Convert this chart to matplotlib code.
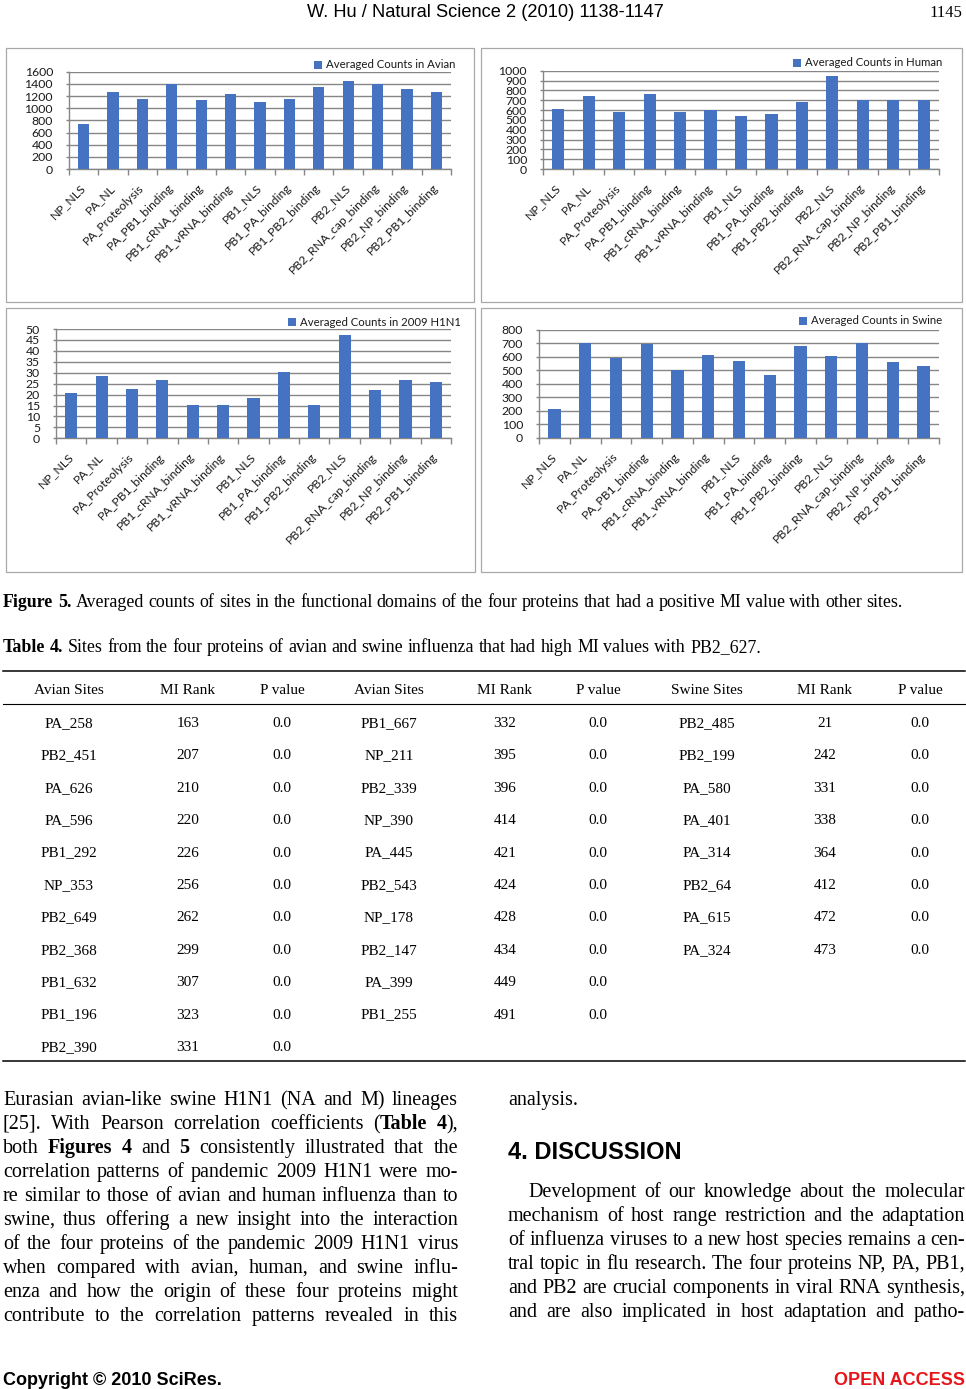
import numpy as np
import matplotlib
matplotlib.use('Agg')
import matplotlib.pyplot as plt
from matplotlib.font_manager import FontProperties
from matplotlib.patches import Rectangle

W, H = 966, 1389

# ---------------- chart data (Figure 5) ----------------
domains = ['NP_NLS', 'PA_NL', 'PA_Proteolysis', 'PA_PB1_binding', 'PB1_cRNA_binding',
           'PB1_vRNA_binding', 'PB1_NLS', 'PB1_PA_binding', 'PB1_PB2_binding', 'PB2_NLS',
           'PB2_RNA_cap_binding', 'PB2_NP_binding', 'PB2_PB1_binding']
avian_counts = [745, 1260, 1150, 1403, 1140, 1238, 1107, 1150, 1353, 1447, 1403, 1310, 1266]
human_counts = [607, 742, 583, 763, 583, 597, 539, 559, 681, 946, 702, 702, 702]
h1n1_counts = [20.9, 28.7, 22.7, 26.8, 15.2, 15.2, 18.6, 30.2, 15.2, 47.4, 22.3, 26.8, 25.8]
swine_counts = [215, 701, 593, 694, 501, 612, 570, 464, 681, 605, 699, 563, 528]

# ---------------- table data (Table 4) ----------------
table_header = ['Avian Sites', 'MI Rank', 'P value', 'Avian Sites', 'MI Rank', 'P value',
                'Swine Sites', 'MI Rank', 'P value']
avian_sites_a = ['PA_258', 'PB2_451', 'PA_626', 'PA_596', 'PB1_292', 'NP_353', 'PB2_649',
                 'PB2_368', 'PB1_632', 'PB1_196', 'PB2_390']
avian_rank_a = [163, 207, 210, 220, 226, 256, 262, 299, 307, 323, 331]
avian_p_a = [0.0] * 11
avian_sites_b = ['PB1_667', 'NP_211', 'PB2_339', 'NP_390', 'PA_445', 'PB2_543', 'NP_178',
                 'PB2_147', 'PA_399', 'PB1_255']
avian_rank_b = [332, 395, 396, 414, 421, 424, 428, 434, 449, 491]
avian_p_b = [0.0] * 10
swine_sites = ['PB2_485', 'PB2_199', 'PA_580', 'PA_401', 'PA_314', 'PB2_64', 'PA_615', 'PA_324']
swine_rank = [21, 242, 331, 338, 364, 412, 472, 473]
swine_p = [0.0] * 8

# ---------------- page text ----------------
left_lines = [
    "Eurasian avian-like swine H1N1 (NA and M) lineages",
    "[25]. With Pearson correlation coefficients (**Table 4**),",
    "both **Figures 4** and **5** consistently illustrated that the",
    "correlation patterns of pandemic 2009 H1N1 were mo-",
    "re similar to those of avian and human influenza than to",
    "swine, thus offering a new insight into the interaction",
    "of the four proteins of the pandemic 2009 H1N1 virus",
    "when compared with avian, human, and swine influ-",
    "enza and how the origin of these four proteins might",
    "contribute to the correlation patterns revealed in this",
]
right_lines = [
    "Development of our knowledge about the molecular",
    "mechanism of host range restriction and the adaptation",
    "of influenza viruses to a new host species remains a cen-",
    "tral topic in flu research. The four proteins NP, PA, PB1,",
    "and PB2 are crucial components in viral RNA synthesis,",
    "and are also implicated in host adaptation and patho-",
]

BAR = '#4672C2'
GRID = '#868686'
FRAME = '#A8A8A8'
SERIF = ['Liberation Serif', 'DejaVu Serif']
SANS = ['Liberation Sans', 'DejaVu Sans']
NARROW = ['Liberation Sans Narrow', 'Liberation Sans', 'DejaVu Sans']
CHART = ['Lato', 'DejaVu Sans']
CS = 8.8   # chart tick font size
LS = 8.2   # chart legend font size

fig = plt.figure(figsize=(W / 100, H / 100), dpi=100)
renderer = fig.canvas.get_renderer()


def fx(x):
    return x / W


def fy(y):
    return 1 - y / H


def text_w(s, size, family, weight='normal'):
    fp = FontProperties(family=family, size=size, weight=weight)
    w, h, d = renderer.get_text_width_height_descent(s, fp, ismath=False)
    return w


def parse(line):
    words, bold = [], False
    for tok in line.split(' '):
        segs = []
        for i, p in enumerate(tok.split('**')):
            if i > 0:
                bold = not bold
            if p:
                segs.append((p, 'bold' if bold else 'normal'))
        words.append(segs)
    return words


def natural_width(words, size, family, space):
    tot = sum(text_w(t, size, family, wt) for w in words for t, wt in w)
    return tot + space * size * 100 / 72 * (len(words) - 1)


def put_line(line, x0, x1, y, size, family, justify=True, space=0.25, color='black'):
    words = parse(line)
    widths = [[text_w(t, size, family, wt) for t, wt in w] for w in words]
    wsum = [sum(ws) for ws in widths]
    if justify and len(words) > 1:
        gap = (x1 - x0 - sum(wsum)) / (len(words) - 1)
    else:
        gap = space * size * 100 / 72
    x = x0
    for w, ws, tot in zip(words, widths, wsum):
        xx = x
        for (t, wt), sw in zip(w, ws):
            fig.text(fx(xx), fy(y), t, fontsize=size, family=family, weight=wt,
                     ha='left', va='baseline', color=color)
            xx += sw
        x += tot + gap


def fit_size(line, width, family, space=0.25):
    words = parse(line)
    return 10 * width / natural_width(words, 10, family, space)


def chart(l, r, base, top, values, ymax, step, label, lx, ly, width):
    ax = fig.add_axes([fx(l), fy(base), (r - l) / W, (base - top) / H])
    x = np.arange(len(domains))
    ax.bar(x, values, width=width, color=BAR, zorder=3, label=label)
    ax.set_xlim(-0.5, len(domains) - 0.5)
    ax.set_ylim(0, ymax)
    ax.set_yticks(np.arange(0, ymax + step / 2, step))
    ax.yaxis.grid(True, color=GRID, lw=1.0, zorder=0)
    ax.set_axisbelow(True)
    ax.set_xticks(x)
    ax.set_xticklabels(domains, rotation=45, ha='right', va='center',
                       rotation_mode='anchor', fontsize=CS, family=CHART, color='#1a1a1a')
    ax.set_xticks(np.arange(len(domains) + 1) - 0.5, minor=True)
    ax.tick_params(axis='x', which='major', length=0, pad=12)
    ax.tick_params(axis='x', which='minor', length=4, color=GRID, width=1)
    ax.tick_params(axis='y', length=2.5, color=GRID, width=1, labelsize=CS, pad=9,
                   labelcolor='#1a1a1a')
    for lab in ax.get_yticklabels():
        lab.set_family(CHART)
    for s in ['top', 'right']:
        ax.spines[s].set_visible(False)
    for s in ['left', 'bottom']:
        ax.spines[s].set_color(GRID)
        ax.spines[s].set_linewidth(1.0)
    ax.legend(loc='center right', bbox_to_anchor=(fx(lx), fy(ly)),
              bbox_transform=fig.transFigure, frameon=False,
              prop=FontProperties(family=CHART, size=LS),
              handlelength=0.7, handleheight=0.7, handletextpad=0.35,
              borderpad=0, borderaxespad=0, labelcolor='#1a1a1a')
    return ax


# panel frames
for (x0, y0, x1, y1) in [(6, 48, 474, 302), (481, 48, 962, 302),
                         (6, 308, 475, 572), (481, 308, 962, 572)]:
    fig.patches.append(Rectangle((fx(x0), fy(y1)), (x1 - x0) / W, (y1 - y0) / H,
                                 transform=fig.transFigure, fill=False,
                                 edgecolor=FRAME, lw=0.9))

chart(69, 451, 169, 71.7, avian_counts, 1600, 200, 'Averaged Counts in Avian', 455, 65, 0.38)
chart(543, 939, 169, 70.7, human_counts, 1000, 100, 'Averaged Counts in Human', 942, 63, 0.40)
chart(56, 451, 438.3, 329, h1n1_counts, 50, 5, 'Averaged Counts in 2009 H1N1', 461, 322, 0.40)
chart(539, 939, 437.7, 329.7, swine_counts, 800, 100, 'Averaged Counts in Swine', 942, 321, 0.40)

# running header
head = "W. Hu / Natural Science 2 (2010) 1138-1147"
hs = fit_size(head, 353, NARROW)
fig.text(fx(485), fy(17), head, fontsize=hs, family=NARROW, ha='center', va='baseline')
fig.text(fx(962), fy(17), "1145", fontsize=12, family=SERIF, ha='right', va='baseline')

# captions
cap5 = "**Figure 5.** Averaged counts of sites in the functional domains of the four proteins that had a positive MI value with other sites."
put_line(cap5, 3, 905, 607, fit_size(cap5, 902, SERIF), SERIF, justify=False)
cap4 = "**Table 4.** Sites from the four proteins of avian and swine influenza that had high MI values with PB2_627."
put_line(cap4, 3, 762, 652, fit_size(cap4, 759, SERIF), SERIF, justify=False)

# table rules
for yy, lw in [(671, 1.1), (704, 0.8), (1061, 1.1)]:
    fig.add_artist(plt.Line2D([fx(3), fx(965)], [fy(yy), fy(yy)], color='black', lw=lw))

col_x = [69, 188, 282, 389, 505, 598, 707, 825, 920]
TS = 11
for cx, h in zip(col_x, table_header):
    fig.text(fx(cx), fy(694), h, fontsize=TS, family=SERIF, ha='center', va='baseline')

columns = [(avian_sites_a, avian_rank_a, avian_p_a),
           (avian_sites_b, avian_rank_b, avian_p_b),
           (swine_sites, swine_rank, swine_p)]
for k, (sites, ranks, pvals) in enumerate(columns):
    for i, (s, rk, p) in enumerate(zip(sites, ranks, pvals)):
        yy = 727 + i * 32.4
        fig.text(fx(col_x[3 * k]), fy(yy), s, fontsize=TS, family=SERIF, ha='center', va='baseline')
        fig.text(fx(col_x[3 * k + 1]), fy(yy), str(rk), fontsize=TS, family=SERIF, ha='center', va='baseline')
        fig.text(fx(col_x[3 * k + 2]), fy(yy), f"{p:.1f}", fontsize=TS, family=SERIF, ha='center', va='baseline')

# body text
BS = 14.5
for i, line in enumerate(left_lines):
    put_line(line, 3, 458, 1105 + i * 24, BS, SERIF, justify=True)

put_line("analysis.", 508, 965, 1105, BS, SERIF, justify=False)
fig.text(fx(508), fy(1159), "4. DISCUSSION", fontsize=17, family=SANS, weight='bold',
         ha='left', va='baseline')
for i, line in enumerate(right_lines):
    x0 = 528 if i == 0 else 508
    put_line(line, x0, 965, 1197 + i * 24, BS, SERIF, justify=True)

# footer
fig.text(fx(3), fy(1385), "Copyright \u00a9 2010 SciRes.", fontsize=13, family=SANS,
         weight='bold', ha='left', va='baseline')
fig.text(fx(965), fy(1385), "OPEN ACCESS", fontsize=13, family=SANS, weight='bold',
         color='#E8141B', ha='right', va='baseline')

fig.savefig('out.png', dpi=100)
